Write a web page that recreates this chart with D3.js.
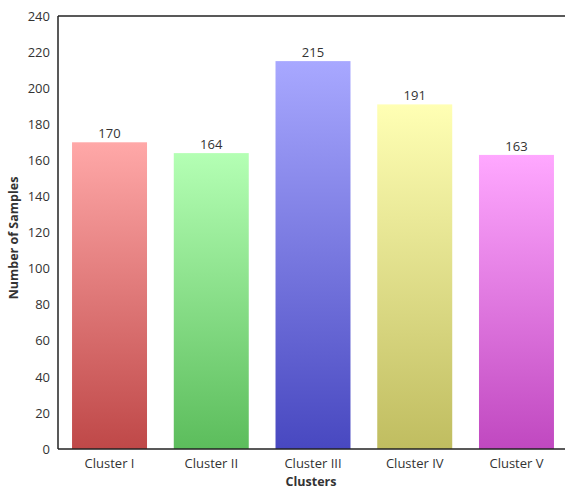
<!DOCTYPE html>
<html>
<head>
<meta charset="utf-8">
<script src="https://cdn.jsdelivr.net/npm/d3@7"></script>
<style>
  body { margin: 0; background: #fff; overflow: hidden; }
  text { font-family: "Open Sans", sans-serif; }
</style>
</head>
<body>
<svg id="chart" width="565" height="490"></svg>
<script>
const clusters = ['Cluster I', 'Cluster II', 'Cluster III', 'Cluster IV', 'Cluster V'];
const samples = [170, 164, 215, 191, 163];
const topColors = ['#ffa8a8', '#b4ffb4', '#a8a8ff', '#ffffb4', '#ffa8ff'];
const bottomColors = ['#bf4848', '#5cbd5c', '#4848c0', '#c0bd60', '#c048c0'];
const yTicks = d3.range(0, 241, 20);

// plot area runs a little past the right edge of the window
const margin = { top: 16, right: -3, bottom: 41, left: 58 };
const width = 565, height = 490;

const svg = d3.select('#chart');

const x = d3.scaleBand()
  .domain(clusters)
  .range([margin.left, width - margin.right])
  .paddingInner(0.263)
  .paddingOuter(0.138);

const y = d3.scaleLinear()
  .domain([0, 240])
  .range([height - margin.bottom, margin.top]);

// gradients, light at top, dark at bottom
const defs = svg.append('defs');
clusters.forEach((c, i) => {
  const g = defs.append('linearGradient')
    .attr('id', 'grad' + i)
    .attr('x1', 0).attr('y1', 0)
    .attr('x2', 0).attr('y2', 1);
  g.append('stop').attr('offset', '0%').attr('stop-color', topColors[i]);
  g.append('stop').attr('offset', '100%').attr('stop-color', bottomColors[i]);
});

// bars
svg.selectAll('.bar')
  .data(samples)
  .join('rect')
  .attr('class', 'bar')
  .attr('x', (d, i) => x(clusters[i]))
  .attr('y', d => y(d))
  .attr('width', x.bandwidth())
  .attr('height', d => y(0) - y(d))
  .attr('fill', (d, i) => `url(#grad${i})`);

// value labels
svg.selectAll('.val')
  .data(samples)
  .join('text')
  .attr('class', 'val')
  .attr('x', (d, i) => x(clusters[i]) + x.bandwidth() / 2)
  .attr('y', d => y(d) - 4)
  .attr('text-anchor', 'middle')
  .attr('font-size', '13px')
  .attr('fill', '#333')
  .text(d => d);

// y axis
const yAxis = svg.append('g')
  .attr('transform', `translate(${margin.left},0)`)
  .call(d3.axisLeft(y).tickValues(yTicks).tickSize(0).tickPadding(8));
yAxis.select('.domain').remove();
yAxis.selectAll('text')
  .attr('font-size', '13px')
  .attr('fill', '#333')
  .style('font-family', '"Open Sans", sans-serif');

// x axis
const xAxis = svg.append('g')
  .attr('transform', `translate(0,${y(0)})`)
  .call(d3.axisBottom(x).tickSize(0).tickPadding(10));
xAxis.select('.domain').remove();
xAxis.selectAll('text')
  .attr('font-size', '13px')
  .attr('fill', '#333')
  .style('font-family', '"Open Sans", sans-serif');

// frame lines
svg.append('line')
  .attr('x1', margin.left).attr('x2', width)
  .attr('y1', margin.top).attr('y2', margin.top)
  .attr('stroke', '#222').attr('stroke-width', 1.5);
svg.append('line')
  .attr('x1', margin.left).attr('x2', margin.left)
  .attr('y1', margin.top).attr('y2', y(0))
  .attr('stroke', '#222').attr('stroke-width', 1.5);
svg.append('line')
  .attr('x1', margin.left).attr('x2', width)
  .attr('y1', y(0)).attr('y2', y(0))
  .attr('stroke', '#222').attr('stroke-width', 1.5);

// axis titles
svg.append('text')
  .attr('x', 311)
  .attr('y', 486)
  .attr('text-anchor', 'middle')
  .attr('font-size', '12.5px')
  .attr('font-weight', 'bold')
  .attr('fill', '#333')
  .text('Clusters');

svg.append('text')
  .attr('transform', 'translate(18,238) rotate(-90)')
  .attr('text-anchor', 'middle')
  .attr('font-size', '12.5px')
  .attr('font-weight', 'bold')
  .attr('fill', '#333')
  .text('Number of Samples');
</script>
</body>
</html>
